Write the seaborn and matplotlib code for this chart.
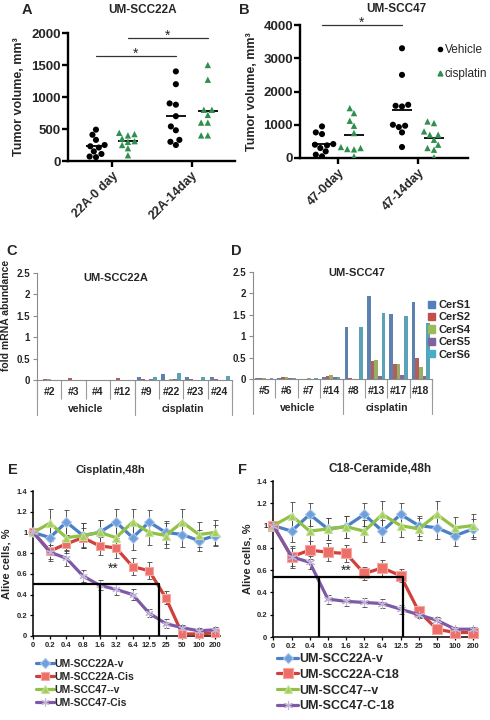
import numpy as np
import pandas as pd
import seaborn as sns
import matplotlib.pyplot as plt
from matplotlib.lines import Line2D
from matplotlib.patches import Patch

# ---- A / B: tumor volume, mm3 ----
groups = ["Vehicle", "cisplatin"]

a_days = ["22A-0 day", "22A-14day"]
a_vehicle_0 = [490, 410, 330, 250, 230, 210, 150, 110, 70, 60]
a_cisplatin_0 = [440, 420, 400, 350, 310, 300, 250, 200, 90]
a_vehicle_14 = [1400, 1200, 900, 880, 700, 540, 480, 330, 300, 250]
a_cisplatin_14 = [1500, 1270, 800, 800, 720, 600, 600, 400, 400]

b_days = ["47-0day", "47-14day"]
b_vehicle_0 = [950, 770, 720, 420, 400, 380, 300, 200, 100, 50]
b_cisplatin_0 = [1500, 1350, 1120, 970, 750, 330, 300, 270, 260, 50]
b_vehicle_14 = [3300, 2500, 1600, 1570, 1550, 1000, 970, 930, 770, 330]
b_cisplatin_14 = [1100, 1050, 800, 700, 700, 550, 400, 300, 250, 20]

# significance bars: (x from, x to, height)
a_sig = [(-0.2, 0.8, 1640), (0.2, 1.2, 1920)]
b_sig = [(-0.2, 0.8, 4000)]

# ---- C / D: fold mRNA abundance ----
genes = ["CerS1", "CerS2", "CerS4", "CerS5", "CerS6"]
cers_colors = ["#4f81bd", "#c0504d", "#9bbb59", "#8064a2", "#4bacc6"]
treat_groups = ["vehicle", "cisplatin"]
group_size = 4

c_samples = ["#2", "#3", "#4", "#12", "#9", "#22", "#23", "#24"]
c_cers1 = [0.01, 0.01, 0.01, 0.01, 0.08, 0.14, 0.08, 0.08]
c_cers2 = [0.03, 0.05, 0.01, 0.05, 0.02, 0.01, 0.02, 0.02]
c_cers4 = [0.02, 0.01, 0.01, 0.01, 0.01, 0.02, 0.01, 0.01]
c_cers5 = [0.00, 0.00, 0.00, 0.00, 0.03, 0.03, 0.01, 0.01]
c_cers6 = [0.01, 0.01, 0.01, 0.01, 0.07, 0.17, 0.08, 0.10]

d_samples = ["#5", "#6", "#7", "#14", "#8", "#13", "#17", "#18"]
d_cers1 = [0.03, 0.03, 0.00, 0.04, 1.21, 1.93, 1.52, 1.80]
d_cers2 = [0.03, 0.04, 0.00, 0.08, 0.03, 0.42, 0.35, 0.50]
d_cers4 = [0.02, 0.04, 0.03, 0.10, 0.00, 0.44, 0.35, 0.27]
d_cers5 = [0.01, 0.02, 0.00, 0.04, 0.00, 0.08, 0.09, 0.07]
d_cers6 = [0.02, 0.02, 0.02, 0.04, 1.21, 1.55, 1.48, 1.30]

# ---- E / F: alive cells ----
doses = ["0", "0.2", "0.4", "0.8", "1.6", "3.2", "6.4", "12.5", "25", "50", "100", "200"]

e_22a_v = [1.0, 0.95, 1.1, 0.97, 1.0, 1.1, 0.95, 1.1, 1.0, 0.98, 0.92, 0.97]
e_22a_cis = [1.0, 0.82, 0.89, 0.95, 0.87, 0.85, 0.67, 0.63, 0.37, 0.02, 0.02, 0.03]
e_47_v = [1.0, 1.09, 0.95, 0.97, 1.0, 0.95, 1.1, 1.0, 0.97, 1.1, 0.98, 1.0]
e_47_cis = [1.0, 0.81, 0.75, 0.58, 0.49, 0.45, 0.40, 0.22, 0.12, 0.08, 0.05, 0.06]
e_22a_v_err = [0.03, 0.12, 0.12, 0.12, 0.12, 0.13, 0.12, 0.12, 0.11, 0.12, 0.1, 0.1]
e_22a_cis_err = [0.03, 0.1, 0.09, 0.09, 0.09, 0.1, 0.08, 0.08, 0.06, 0.02, 0.02, 0.02]
e_47_v_err = [0.03, 0.14, 0.12, 0.12, 0.12, 0.13, 0.13, 0.12, 0.12, 0.13, 0.12, 0.12]
e_47_cis_err = [0.03, 0.07, 0.07, 0.06, 0.05, 0.05, 0.05, 0.04, 0.04, 0.03, 0.03, 0.03]

f_22a_v = [1.0, 0.95, 1.1, 0.97, 0.99, 1.1, 0.95, 1.1, 1.0, 0.98, 0.91, 0.97]
f_22a_c18 = [1.0, 0.72, 0.78, 0.76, 0.75, 0.57, 0.62, 0.55, 0.23, 0.07, 0.04, 0.04]
f_47_v = [1.0, 1.09, 0.95, 0.97, 0.99, 0.95, 1.1, 1.0, 0.97, 1.1, 0.98, 1.0]
f_47_c18 = [1.0, 0.72, 0.67, 0.34, 0.32, 0.31, 0.30, 0.25, 0.20, 0.15, 0.07, 0.07]
f_22a_v_err = [0.03, 0.1, 0.1, 0.1, 0.1, 0.1, 0.1, 0.1, 0.09, 0.1, 0.09, 0.09]
f_22a_c18_err = [0.03, 0.1, 0.08, 0.08, 0.08, 0.06, 0.07, 0.06, 0.05, 0.03, 0.02, 0.02]
f_47_v_err = [0.03, 0.12, 0.12, 0.1, 0.1, 0.1, 0.12, 0.1, 0.1, 0.12, 0.1, 0.1]
f_47_c18_err = [0.03, 0.08, 0.06, 0.04, 0.04, 0.04, 0.04, 0.04, 0.03, 0.03, 0.02, 0.02]

# half-max guide lines: (y, x left vertical, x right vertical)
e_guide = (0.5, 4.0, 7.6)
f_guide = (0.54, 2.5, 7.15)

line_colors = ["#4a80c4", "#d0403a", "#93c047", "#7e5aa6"]
marker_faces = ["#6fa0dc", "#ee6f68", "#a3cf5e", "#c2b4d6"]
marker_edges = ["#a9c6ea", "#f5a7a3", "#c7e19c", "#c2b4d6"]
line_markers = ["D", "s", "^", (6, 2, 0)]

W, H = 490, 720
green = "#2f8f4e"


def fx(x):
    return x / W


def fy(y):
    return 1 - y / H


def rect(l, t, r, b):
    return [l / W, 1 - b / H, (r - l) / W, (b - t) / H]


sns.set_theme(style="ticks")
plt.rcParams["font.family"] = ["Liberation Sans", "DejaVu Sans"]
plt.rcParams["font.weight"] = "bold"
plt.rcParams["axes.labelweight"] = "bold"

fig = plt.figure(figsize=(W / 100, H / 100), dpi=100)


def tumor_panel(ax, days, values, ymax, yticks, xlim, sig):
    rows = []
    for day, (veh, cis) in zip(days, values):
        rows += [(day, "Vehicle", v) for v in veh]
        rows += [(day, "cisplatin", v) for v in cis]
    df = pd.DataFrame(rows, columns=["day", "group", "vol"])
    pal = {"Vehicle": "black", "cisplatin": green}
    for grp, mk, sz in zip(groups, ["o", "^"], [4.4, 4.6]):
        sns.swarmplot(data=df[df["group"] == grp], x="day", y="vol", hue="group",
                      order=days, hue_order=groups, palette=pal, dodge=True,
                      marker=mk, size=sz, linewidth=0, legend=False, ax=ax)
    sns.pointplot(data=df, x="day", y="vol", hue="group", order=days, hue_order=groups,
                  palette={g: "black" for g in groups}, dodge=0.4, errorbar=None,
                  markers="_", linestyles="none", markersize=14, markeredgewidth=1.3,
                  legend=False, ax=ax)
    for x0, x1, h in sig:
        ax.plot([x0, x1], [h, h], color="#333333", lw=0.9, clip_on=False)
        ax.text((x0 + x1) / 2, h + ymax * 0.02, "*", ha="center", va="center",
                fontsize=10, fontweight="normal")
    ax.set_xlim(*xlim)
    ax.set_ylim(0, ymax)
    ax.set_yticks(yticks)
    sns.despine(ax=ax)
    for s in ["left", "bottom"]:
        ax.spines[s].set_linewidth(1.7)
        ax.spines[s].set_color("black")
    ax.tick_params(axis="both", width=1.7, length=4, color="black", labelsize=9.5, pad=1)
    ax.tick_params(axis="x", labelsize=9, pad=2)
    plt.setp(ax.get_xticklabels(), rotation=45, ha="right", rotation_mode="anchor")
    ax.set_xlabel("")
    ax.set_ylabel("Tumor volume, mm³", fontsize=9)


ax_a = fig.add_axes(rect(68, 33, 235, 161))
tumor_panel(ax_a, a_days, [(a_vehicle_0, a_cisplatin_0), (a_vehicle_14, a_cisplatin_14)],
            2000, [0, 500, 1000, 1500, 2000], (-0.55, 1.54), a_sig)
ax_a.yaxis.set_label_coords(-0.26, 0.5)

ax_b = fig.add_axes(rect(300, 25, 468, 158))
tumor_panel(ax_b, b_days, [(b_vehicle_0, b_cisplatin_0), (b_vehicle_14, b_cisplatin_14)],
            4000, [0, 1000, 2000, 3000, 4000], (-0.475, 1.625), b_sig)
ax_b.yaxis.set_label_coords(-0.25, 0.5)
b_handles = [Line2D([], [], ls="none", marker="o", color="black", markersize=3),
             Line2D([], [], ls="none", marker="^", color=green, markersize=3.5)]
ax_b.legend(b_handles, groups, loc="upper left", bbox_to_anchor=(fx(437), fy(44)),
            bbox_transform=fig.transFigure, frameon=False, handlelength=0.5,
            handletextpad=0.15, labelspacing=1.0, borderpad=0, borderaxespad=0,
            prop={"size": 8.5, "weight": "normal"})


def cers_panel(ax, samples, gene_vals, with_legend):
    rows = []
    for g, vals in zip(genes, gene_vals):
        rows += [(s, g, v) for s, v in zip(samples, vals)]
    df = pd.DataFrame(rows, columns=["sample", "gene", "fold"])
    sns.barplot(data=df, x="sample", y="fold", hue="gene", order=samples, hue_order=genes,
                palette=cers_colors, errorbar=None, width=0.82, linewidth=0,
                legend=False, ax=ax)
    n = len(samples)
    ax.set_xlim(-0.5, n - 0.5)
    ax.set_ylim(0, 2.5)
    ax.set_yticks([0, 0.5, 1, 1.5, 2, 2.5], ["0", "0.5", "1", "1.5", "2", "2.5"])
    sns.despine(ax=ax)
    for s in ["left", "bottom"]:
        ax.spines[s].set_linewidth(0.8)
        ax.spines[s].set_color("#8c8c8c")
    ax.tick_params(axis="y", length=3, width=0.8, color="#8c8c8c", labelsize=7, pad=2)
    ax.tick_params(axis="x", which="major", length=0, labelsize=7.5, pad=5)
    ax.set_xticks(np.arange(-0.5, n, 1), minor=True)
    ax.tick_params(axis="x", which="minor", length=14, width=0.8, color="#9a9a9a")
    tr = ax.get_xaxis_transform()
    for k in range(len(treat_groups) + 1):
        xb = k * group_size - 0.5
        ax.plot([xb, xb], [0, -0.33], transform=tr, color="#9a9a9a", lw=0.8, clip_on=False)
    for k, name in enumerate(treat_groups):
        ax.text(k * group_size + (group_size - 1) / 2, -0.275, name, transform=tr,
                ha="center", va="center", fontsize=7.5)
    ax.set_xlabel("")
    ax.set_ylabel("")
    if with_legend:
        handles = [Patch(color=c) for c in cers_colors]
        ax.legend(handles, genes, loc="upper left", bbox_to_anchor=(fx(428), fy(300)),
                  bbox_transform=fig.transFigure, frameon=False, fontsize=8,
                  handlelength=0.6, handleheight=0.6, handletextpad=0.35,
                  labelspacing=0.22, borderpad=0, borderaxespad=0)


ax_c = fig.add_axes(rect(37, 273, 232, 380))
cers_panel(ax_c, c_samples, [c_cers1, c_cers2, c_cers4, c_cers5, c_cers6], False)
ax_c.set_ylabel("fold mRNA abundance", fontsize=7.5)
ax_c.yaxis.set_label_coords(-0.135, 0.6)

ax_d = fig.add_axes(rect(253, 272, 432, 379))
cers_panel(ax_d, d_samples, [d_cers1, d_cers2, d_cers4, d_cers5, d_cers6], True)


def viability_panel(ax, series, errs, labels, guide, star_xy, xlim, ms, leg_anchor, leg_size, leg_space):
    pos = np.arange(len(doses))
    for vals, err, lab, col, mk, mf, me, m in zip(series, errs, labels, line_colors,
                                                line_markers, marker_faces, marker_edges, ms):
        ax.errorbar(pos, vals, yerr=err, fmt="none", ecolor="#444444", elinewidth=0.6,
                    capsize=1.8, capthick=0.6, zorder=2)
        sns.lineplot(x=pos, y=vals, color=col, lw=2.3, marker=mk, markersize=m,
                     markerfacecolor=mf, markeredgecolor=me, markeredgewidth=0.8,
                     label=lab, clip_on=False, zorder=3, ax=ax)
    gy, gx0, gx1 = guide
    ax.plot([0, gx1], [gy, gy], color="black", lw=1.6, zorder=4)
    ax.plot([gx0, gx0], [0, gy], color="black", lw=1.6, zorder=4)
    ax.plot([gx1, gx1], [0, gy], color="black", lw=1.6, zorder=4)
    ax.text(star_xy[0], star_xy[1], "**", ha="center", va="center", fontsize=10,
            fontweight="normal", zorder=5)
    ax.set_xlim(*xlim)
    ax.set_ylim(0, 1.4)
    ax.set_xticks(pos, doses)
    ax.set_yticks([0, 0.2, 0.4, 0.6, 0.8, 1, 1.2, 1.4],
                  ["0", "0.2", "0.4", "0.6", "0.8", "1", "1.2", "1.4"])
    sns.despine(ax=ax)
    for s in ["left", "bottom"]:
        ax.spines[s].set_linewidth(1.1)
        ax.spines[s].set_color("black")
    ax.tick_params(axis="both", length=2, width=0.9, color="black", labelsize=5.5, pad=2)
    ax.set_xlabel("")
    ax.set_ylabel("Alive cells, %", fontsize=8)
    ax.legend(loc="upper left", bbox_to_anchor=leg_anchor, bbox_transform=fig.transFigure,
              frameon=False, fontsize=leg_size, handlelength=1.7, handletextpad=0.05,
              labelspacing=leg_space, borderpad=0, borderaxespad=0)


ax_e = fig.add_axes(rect(33, 491, 220, 636))
viability_panel(ax_e, [e_22a_v, e_22a_cis, e_47_v, e_47_cis],
                [e_22a_v_err, e_22a_cis_err, e_47_v_err, e_47_cis_err],
                ["UM-SCC22A-v", "UM-SCC22A-Cis", "UM-SCC47--v", "UM-SCC47-Cis"],
                e_guide, (4.8, 0.65), (-0.02, 11.28), [5, 5.5, 5.5, 6],
                (fx(36), fy(659)), 7.5, 0.28)
ax_e.yaxis.set_label_coords(-0.115, 0.5)

ax_f = fig.add_axes(rect(273, 481, 478, 637))
viability_panel(ax_f, [f_22a_v, f_22a_c18, f_47_v, f_47_c18],
                [f_22a_v_err, f_22a_c18_err, f_47_v_err, f_47_c18_err],
                ["UM-SCC22A-v", "UM-SCC22A-C18", "UM-SCC47--v", "UM-SCC47-C-18"],
                f_guide, (4.0, 0.59), (-0.02, 11.26), [5.5, 6.5, 6, 6.5],
                (fx(277), fy(653)), 9, 0.3)
ax_f.yaxis.set_label_coords(-0.1, 0.5)

# titles and panel letters
for x, y, s, size in [(143, 10, "UM-SCC22A", 8.5), (396, 9, "UM-SCC47", 8.5),
                      (116, 278, "UM-SCC22A", 8), (357, 273, "UM-SCC47", 8),
                      (110, 470, "Cisplatin,48h", 8), (380, 469, "C18-Ceramide,48h", 8.5)]:
    fig.text(fx(x), fy(y), s, ha="center", va="center", fontsize=size)
for x, y, s in [(27, 10, "A"), (244, 10, "B"), (12, 251, "C"), (236, 251, "D"),
                (13, 470, "E"), (242, 470, "F")]:
    fig.text(fx(x), fy(y), s, ha="center", va="center", fontsize=10.5)

fig.savefig("out.png", dpi=100)
